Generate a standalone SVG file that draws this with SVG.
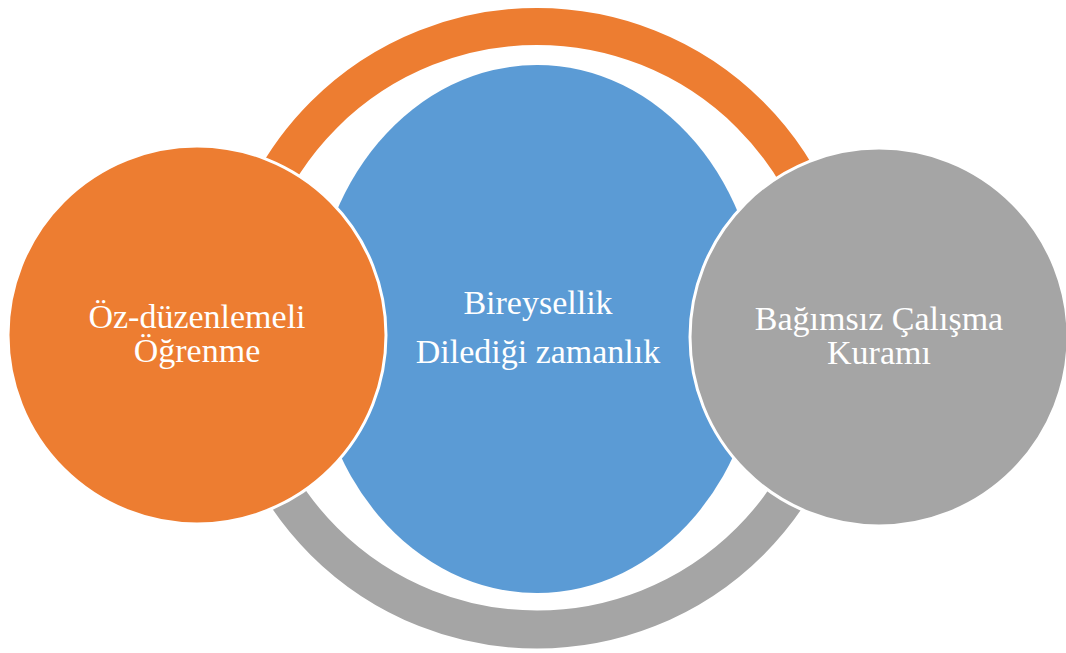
<svg xmlns="http://www.w3.org/2000/svg" width="1066" height="653" viewBox="0 0 1066 653">
<style>
.lbl{font-family:"Liberation Serif","Times New Roman",serif;font-size:34px;fill:#ffffff;text-anchor:middle}
.node{stroke:#ffffff;stroke-width:3}
</style>
<rect width="1066" height="653" fill="#ffffff"/>
<g id="connectors">
<path d="M 235.5 328 A 301.5 301.5 0 0 1 838.5 328" fill="none" stroke="#ED7D31" stroke-width="37"/>
<path d="M 235.5 328 A 301.5 301.5 0 0 0 838.5 328" fill="none" stroke="#A5A5A5" stroke-width="38"/>
</g>
<g id="center">
<ellipse cx="537" cy="329" rx="224" ry="264" fill="#5B9BD5"/>
<text class="lbl" x="538" y="314">Bireysellik</text>
<text class="lbl" x="538" y="363">Dilediği zamanlık</text>
</g>
<g id="left">
<circle class="node" cx="197" cy="335" r="189" fill="#ED7D31"/>
<text class="lbl" x="197" y="328">Öz-düzenlemeli</text>
<text class="lbl" x="197" y="362">Öğrenme</text>
</g>
<g id="right">
<circle class="node" cx="879" cy="337" r="189" fill="#A5A5A5"/>
<text class="lbl" x="879" y="330">Bağımsız Çalışma</text>
<text class="lbl" x="879" y="364">Kuramı</text>
</g>
</svg>
